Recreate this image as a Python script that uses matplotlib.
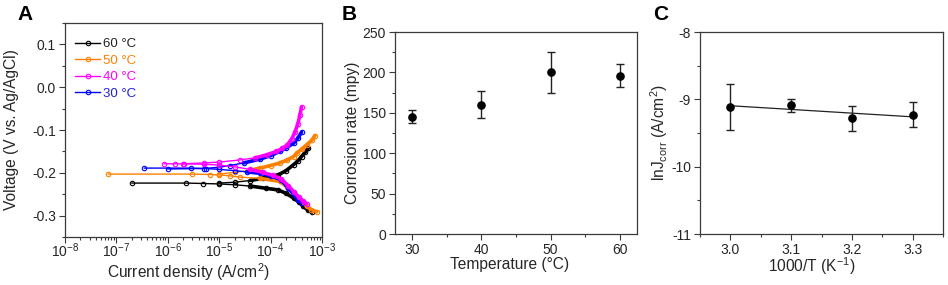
import numpy as np
import matplotlib
matplotlib.use('Agg')
import matplotlib.pyplot as plt
from matplotlib.ticker import MultipleLocator, FixedLocator, LogLocator, NullFormatter, LogFormatterSciNotation

plt.rcParams['font.family'] = ['Liberation Sans', 'DejaVu Sans']
plt.rcParams['mathtext.fontset'] = 'custom'
plt.rcParams['mathtext.rm'] = 'Liberation Sans'
plt.rcParams['mathtext.it'] = 'Liberation Sans:italic'
plt.rcParams['mathtext.bf'] = 'Liberation Sans:bold'
plt.rcParams['axes.unicode_minus'] = False

# ---------------- Panel A: polarization curves ----------------
labels_A = ['60 °C', '50 °C', '40 °C', '30 °C']

i60_cat = [2.0e-7, 2.3e-6, 4.8e-6, 1.0e-5, 2.0e-5, 4.0e-5, 8.0e-5, 1.4e-4, 2.0e-4, 2.8e-4, 3.5e-4, 4.3e-4, 5.3e-4, 6.3e-4]
v60_cat = [-0.224, -0.224, -0.225, -0.226, -0.228, -0.231, -0.236, -0.240, -0.248, -0.259, -0.268, -0.278, -0.287, -0.292]
i60_an = [1.0e-5, 2.0e-5, 4.0e-5, 7.0e-5, 1.0e-4, 1.4e-4, 2.0e-4, 2.8e-4, 3.4e-4, 4.0e-4, 4.7e-4, 5.4e-4]
v60_an = [-0.224, -0.222, -0.218, -0.213, -0.209, -0.205, -0.195, -0.181, -0.172, -0.162, -0.152, -0.143]

i50_cat = [7.0e-8, 3.0e-6, 6.6e-6, 1.0e-5, 1.6e-5, 2.5e-5, 6.2e-5, 1.5e-4, 2.1e-4, 2.8e-4, 3.6e-4, 5.0e-4, 6.2e-4, 7.9e-4]
v50_cat = [-0.203, -0.203, -0.204, -0.205, -0.207, -0.210, -0.213, -0.220, -0.233, -0.247, -0.262, -0.278, -0.286, -0.291]
i50_an = [1.0e-5, 2.0e-5, 4.0e-5, 6.2e-5, 1.0e-4, 1.5e-4, 2.1e-4, 2.8e-4, 3.2e-4, 4.0e-4, 5.0e-4, 6.3e-4, 7.3e-4]
v50_an = [-0.203, -0.199, -0.194, -0.189, -0.183, -0.177, -0.170, -0.162, -0.154, -0.145, -0.135, -0.124, -0.113]

i40_cat = [8.5e-7, 1.4e-6, 2.1e-6, 5.0e-6, 1.0e-5, 2.0e-5, 4.0e-5, 7.0e-5, 1.1e-4, 1.6e-4, 2.2e-4, 2.8e-4, 3.5e-4, 4.2e-4, 5.0e-4]
v40_cat = [-0.179, -0.179, -0.179, -0.180, -0.182, -0.186, -0.192, -0.199, -0.206, -0.214, -0.230, -0.244, -0.256, -0.265, -0.272]
i40_an = [2.0e-6, 5.0e-6, 1.0e-5, 2.5e-5, 5.0e-5, 8.4e-5, 1.3e-4, 1.7e-4, 2.1e-4, 2.6e-4, 3.0e-4, 3.4e-4, 3.7e-4, 4.0e-4]
v40_an = [-0.179, -0.177, -0.175, -0.170, -0.165, -0.158, -0.150, -0.143, -0.135, -0.120, -0.104, -0.085, -0.066, -0.046]

i30_cat = [3.5e-7, 2.8e-6, 5.5e-6, 1.0e-5, 2.0e-5, 3.5e-5, 6.2e-5, 1.0e-4, 1.6e-4, 2.2e-4, 2.8e-4, 3.4e-4, 4.0e-4]
v30_cat = [-0.189, -0.189, -0.190, -0.192, -0.195, -0.198, -0.201, -0.207, -0.216, -0.236, -0.250, -0.263, -0.270]
i30_an = [1.0e-6, 5.0e-6, 1.0e-5, 1.6e-5, 3.0e-5, 6.2e-5, 1.0e-4, 1.5e-4, 2.0e-4, 2.8e-4, 3.4e-4, 4.0e-4]
v30_an = [-0.191, -0.190, -0.187, -0.183, -0.177, -0.168, -0.160, -0.150, -0.142, -0.131, -0.119, -0.105]

yticks_A = [-0.3, -0.2, -0.1, 0.0, 0.1]
yticklabels_A = ['-0.3', '-0.2', '-0.1', '0.0', '0.1']

# ---------------- Panel B: corrosion rate ----------------
temp_B = [30, 40, 50, 60]
rate_B = [145, 160, 200, 196]
rate_err_B = [8, 16.5, 25.5, 14.5]

# ---------------- Panel C: ln Jcorr vs 1000/T ----------------
invT_C = [3.0, 3.1, 3.2, 3.3]
lnJ_C = [-9.11, -9.09, -9.28, -9.23]
lnJ_err_C = [0.34, 0.095, 0.185, 0.185]

W, H = 948, 285
fig = plt.figure(figsize=(W / 100, H / 100), dpi=100)

spine_c = '#3a3a3a'
text_c = '#262626'
tick_fs = 10
label_fs = 11.2


def style_axes(ax):
    for s in ax.spines.values():
        s.set_color(spine_c)
        s.set_linewidth(0.9)
    ax.tick_params(which='both', direction='out', colors=spine_c, labelcolor=text_c,
                   labelsize=tick_fs, top=False, right=False, width=0.8)
    ax.tick_params(which='major', length=4, pad=2.5)
    ax.tick_params(which='minor', length=2.2)


def fax(l, t, r, b):
    return fig.add_axes([l / W, 1 - b / H, (r - l) / W, (b - t) / H])


# ---- Panel A
axA = fax(65, 23, 322, 237)
colors_A = ['#000000', '#ff8000', '#ff00ff', '#0000ff']
branches = [
    (i60_cat, v60_cat, i60_an, v60_an),
    (i50_cat, v50_cat, i50_an, v50_an),
    (i40_cat, v40_cat, i40_an, v40_an),
    (i30_cat, v30_cat, i30_an, v30_an),
]
order = [0, 1, 3, 2]
handles = {}
for k in order:
    ic, vc, ia, va = branches[k]
    c = colors_A[k]
    for ii, vv in ((ic, vc), (ia, va)):
        ii = np.asarray(ii)
        vv = np.asarray(vv)
        h, = axA.plot(ii, vv, '-', color=c, lw=1.0, marker='o', ms=3.2,
                      mfc='none', mec=c, mew=0.8)
        dense = ii >= 3e-5
        axA.plot(ii[dense], vv[dense], '-', color=c, lw=2.6, solid_capstyle='round')
    handles[k] = h

axA.set_xscale('log')
axA.set_xlim(1e-8, 1e-3)
axA.set_ylim(-0.35, 0.15)
axA.xaxis.set_major_locator(LogLocator(base=10, numticks=10))
axA.xaxis.set_major_formatter(LogFormatterSciNotation())
axA.xaxis.set_minor_locator(LogLocator(base=10, subs=np.arange(2, 10), numticks=20))
axA.xaxis.set_minor_formatter(NullFormatter())
axA.yaxis.set_major_locator(FixedLocator(yticks_A))
axA.set_yticklabels(yticklabels_A)
axA.yaxis.set_minor_locator(MultipleLocator(0.05))
style_axes(axA)
axA.tick_params(axis='x', which='major', pad=-1.0)
axA.set_xlabel('Current density (A/cm$^2$)', fontsize=label_fs, color=text_c)
axA.set_ylabel('Voltage (V vs. Ag/AgCl)', fontsize=label_fs, color=text_c)
axA.xaxis.set_label_coords(0.48, -0.112)
axA.yaxis.set_label_coords(-0.178, 0.5)

leg = axA.legend([handles[k] for k in range(4)], labels_A, loc='upper left',
                 bbox_to_anchor=(0.04, 0.93), frameon=False, fontsize=9.5,
                 handlelength=1.9, handletextpad=0.2, labelspacing=0.33,
                 borderpad=0, borderaxespad=0)
for txt, c in zip(leg.get_texts(), ['#222222', '#ff8000', '#ff00ff', '#2020dd']):
    txt.set_color(c)

# ---- Panel B
axB = fax(395, 32, 637, 234)
axB.errorbar(temp_B, rate_B, yerr=rate_err_B, fmt='o', color='black', ms=5.2,
             ecolor='#222222', elinewidth=1.0, capsize=2.6, capthick=1.0)
axB.set_xlim(27.5, 62.5)
axB.set_ylim(0, 250)
axB.xaxis.set_major_locator(MultipleLocator(10))
axB.xaxis.set_minor_locator(MultipleLocator(5))
axB.yaxis.set_major_locator(MultipleLocator(50))
axB.yaxis.set_minor_locator(MultipleLocator(25))
style_axes(axB)
axB.set_xlabel('Temperature (°C)', fontsize=label_fs, color=text_c)
axB.set_ylabel('Corrosion rate (mpy)', fontsize=label_fs, color=text_c)
axB.xaxis.set_label_coords(0.475, -0.115)
axB.yaxis.set_label_coords(-0.145, 0.5)

# ---- Panel C
axC = fax(700, 32, 943, 234)
slope, intercept = np.polyfit(invT_C, lnJ_C, 1)
xf = np.array([invT_C[0], invT_C[-1]])
axC.plot(xf, slope * xf + intercept, '-', color='#222222', lw=0.9)
axC.errorbar(invT_C, lnJ_C, yerr=lnJ_err_C, fmt='o', color='black', ms=5.2,
             ecolor='#222222', elinewidth=1.0, capsize=2.6, capthick=1.0)
axC.set_xlim(2.95, 3.35)
axC.set_ylim(-11, -8)
axC.xaxis.set_major_locator(MultipleLocator(0.1))
axC.xaxis.set_minor_locator(MultipleLocator(0.05))
axC.yaxis.set_major_locator(MultipleLocator(1))
axC.yaxis.set_minor_locator(MultipleLocator(0.5))
axC.xaxis.set_major_formatter(plt.FuncFormatter(lambda v, p: f'{v:.1f}'))
style_axes(axC)
axC.set_xlabel('1000/T (K$^{-1}$)', fontsize=label_fs, color=text_c)
axC.set_ylabel('lnJ$_{\\mathrm{corr}}$ (A/cm$^2$)', fontsize=label_fs, color=text_c)
axC.xaxis.set_label_coords(0.46, -0.105)
axC.yaxis.set_label_coords(-0.123, 0.5)

# panel letters
for x, lab in ((17, 'A'), (342, 'B'), (653, 'C')):
    fig.text(x / W, 1 - 15 / H, lab, fontsize=15, fontweight='bold',
             va='center', ha='left', color='black')

fig.savefig('out.png', dpi=100)
